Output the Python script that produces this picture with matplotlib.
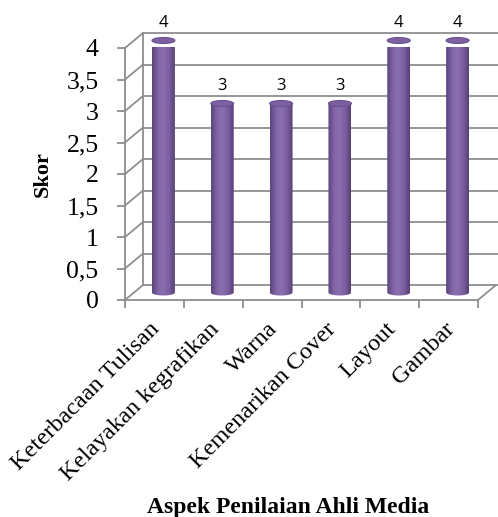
import numpy as np
import matplotlib
matplotlib.use("Agg")
import matplotlib.pyplot as plt
import matplotlib.transforms as mtransforms
from matplotlib.path import Path
from matplotlib.patches import PathPatch, Ellipse
from matplotlib.colors import LinearSegmentedColormap

# Scores per aspect
categories = ["Keterbacaan Tulisan", "Kelayakan kegrafikan", "Warna",
              "Kemenarikan Cover", "Layout", "Gambar"]
scores = [4, 3, 3, 3, 4, 4]
y_ticks = [0, 0.5, 1, 1.5, 2, 2.5, 3, 3.5, 4]
y_tick_labels = ["0", "0,5", "1", "1,5", "2", "2,5", "3", "3,5", "4"]

fig = plt.figure(figsize=(4.98, 5.17), dpi=100)
ax = fig.add_axes([125 / 498, 1 - 300 / 517, 353 / 498, 252 / 517])
n = len(categories)
ax.set_xlim(0, n)
ax.set_ylim(0, 4)

# depth of the pseudo-3D box, in data units
ddx = 0.306
ddy = 0.238
grid_col = "#8e8e8e"
lw = 1.3

# side wall, back wall and floor lines
for v in y_ticks:
    ax.plot([0, ddx], [v, v + ddy], color=grid_col, lw=lw, clip_on=False, zorder=1)
    ax.plot([ddx, n + 1.0], [v + ddy, v + ddy], color=grid_col, lw=lw,
            clip_on=False, zorder=1)
ax.plot([ddx, ddx], [ddy, 4 + ddy], color=grid_col, lw=lw, clip_on=False, zorder=1)
ax.plot([n, n + ddx], [0, ddy], color=grid_col, lw=lw, clip_on=False, zorder=1)

# front axes
for side in ["top", "right"]:
    ax.spines[side].set_visible(False)
for side in ["left", "bottom"]:
    ax.spines[side].set_color(grid_col)
    ax.spines[side].set_linewidth(lw)
ax.set_yticks(y_ticks)
ax.set_yticklabels(y_tick_labels, fontfamily="Liberation Serif", fontsize=18.5)
ax.tick_params(axis="y", length=6, width=lw, color=grid_col, pad=13)
ax.set_xticks(np.arange(n + 1))
ax.set_xticklabels([])
ax.tick_params(axis="x", which="major", length=6, width=lw, color=grid_col)
ax.set_xticks(np.arange(n) + 0.5, minor=True)
ax.set_xticklabels(categories, minor=True, rotation=45, ha="right",
                   rotation_mode="anchor", fontfamily="Liberation Serif",
                   fontsize=17.5)
ax.tick_params(axis="x", which="minor", length=0, pad=14)
shift = mtransforms.ScaledTranslation(-5 / 100, 1 / 100, fig.dpi_scale_trans)
for lab in ax.get_xticklabels(minor=True):
    lab.set_transform(lab.get_transform() + shift)
ax.patch.set_visible(False)

# cylinders
bar_w = 0.39
ell_h = 0.095
xs = np.arange(n) + 0.5 + ddx / 2
bars = ax.bar(xs, scores, width=bar_w, bottom=ddy / 2, color="none",
              edgecolor="none", zorder=3)
cmap = LinearSegmentedColormap.from_list(
    "cyl", [(0.0, "#5b447c"), (0.3, "#8468aa"), (0.5, "#8a6eb0"),
            (0.75, "#7a5e9e"), (1.0, "#564076")])
grad = np.linspace(0, 1, 256).reshape(1, -1)
for b, val in zip(bars, scores):
    x0 = b.get_x()
    w = b.get_width()
    y0 = b.get_y()
    y1 = y0 + b.get_height()
    cx = x0 + w / 2
    t = np.linspace(np.pi, 2 * np.pi, 40)
    arc = np.column_stack([cx + w / 2 * np.cos(t), y0 + ell_h / 2 * np.sin(t)])
    verts = np.vstack([[x0, y1], arc, [x0 + w, y1], [x0, y1]])
    codes = [Path.MOVETO] + [Path.LINETO] * (len(verts) - 2) + [Path.CLOSEPOLY]
    clip = PathPatch(Path(verts, codes), transform=ax.transData)
    im = ax.imshow(grad, cmap=cmap, aspect="auto", interpolation="bilinear",
                   extent=[x0, x0 + w, y0 - ell_h, y1], zorder=3)
    im.set_clip_box(None)
    im.set_clip_path(clip)
    ax.add_patch(Ellipse((cx, y1), w, ell_h, facecolor="#7c60a0",
                         edgecolor="#6a5090", lw=0.8, zorder=4, clip_on=False))
    ax.text(cx, y1 + 0.27, str(val), ha="center", va="center",
            fontfamily="Open Sans", fontsize=12, color="#000000", zorder=5)

ax.set_xlim(0, n)
ax.set_ylim(0, 4)

ax.set_ylabel("Skor", fontfamily="Liberation Serif", fontweight="bold",
              fontsize=16, va="center")
ax.yaxis.set_label_coords(-0.232, 0.5)
ax.set_xlabel("Aspek Penilaian Ahli Media", fontfamily="Liberation Serif",
              fontweight="bold", fontsize=17, va="center")
ax.xaxis.set_label_coords(0.462, -0.825)

fig.savefig("out.png", dpi=100)
